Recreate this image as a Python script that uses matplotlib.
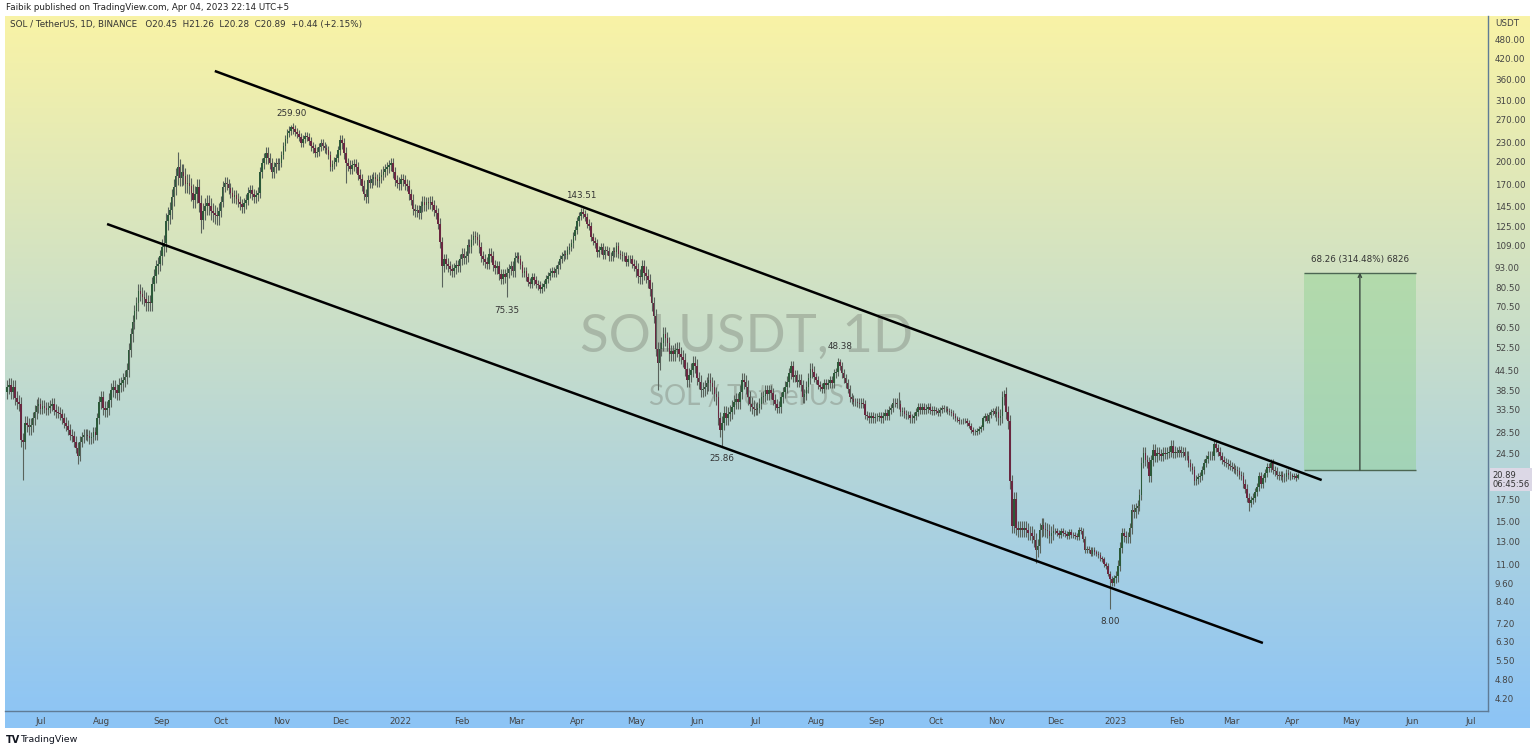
import numpy as np
import pandas as pd
import matplotlib
matplotlib.use('Agg')
import matplotlib.pyplot as plt
import matplotlib.dates as mdates
from matplotlib.colors import to_rgb
from matplotlib.ticker import NullLocator
from matplotlib.transforms import blended_transform_factory

# ---- data (daily closes, SOL/USDT) ----
first_open = 38.0
closes_2021 = [
    39.5, 40.0, 38.0, 39.5, 36.5, 35.5, 35.0, 27.0, 26.5, 30.5, 30.0, 29.5, 30.0, 31.5, 33.0, 34.5, 35.0,  # Jun 14-30
    33.8, 34.5, 34.0, 33.5, 34.0, 34.5, 35.0, 33.5, 33.0, 32.8, 32.5, 31.5, 30.5, 29.9, 29.0, 28.0,
    27.7, 26.6, 25.5, 24.1, 26.6, 27.5, 28.0, 28.0, 27.8, 27.3, 27.5, 28.5, 28.0, 31.5, 35.5,  # Jul
    36.6, 34.0, 33.5, 34.0, 36.0, 38.6, 39.5, 38.5, 37.8, 40.0, 40.5, 41.6, 42.5, 44.6, 51.5, 57.6,
    63.0, 68.0, 72.0, 79.0, 77.0, 75.7, 74.5, 72.0, 73.0, 72.0, 83.0, 88.0, 94.0, 96.0, 101.0,  # Aug
    108, 111, 130, 136, 141, 155, 167, 180, 192, 178, 185, 180, 170, 172, 168,
    160, 152, 158, 167, 148, 131, 140, 145, 148, 145, 140, 138, 136, 135, 140,  # Sep
    150, 167, 172, 170, 165, 160, 155, 157, 153, 150, 147, 144, 148, 152, 160, 163,
    158, 155, 157, 160, 185, 198, 205, 213, 205, 198, 185, 192, 198, 196, 198,  # Oct
    210, 223, 235, 246, 250, 257, 252, 248, 244, 239, 229, 235, 240, 239, 232,
    223, 220, 213, 215, 222, 229, 224, 220, 218, 210, 192, 196, 200, 205, 218,  # Nov
    233, 228, 213, 198, 194, 190, 195, 196, 192, 182, 176, 168, 158, 155, 175, 172,
    176, 179, 176, 174, 179, 182, 186, 189, 192, 195, 198, 185, 175, 172, 170,  # Dec
]
closes_2022 = [
    176, 175, 170, 168, 158, 152, 142, 140, 141, 138, 145, 150, 146, 149, 148, 150,
    146, 141, 138, 128, 112, 94, 99, 96, 94, 92, 91, 93, 95, 94, 99,  # Jan
    103, 100, 101, 110, 108, 114, 117, 116, 114, 108, 101, 99, 97, 96,
    103, 101, 95, 93, 94, 89, 86, 89, 87, 90, 92, 94, 91, 100,  # Feb
    101, 99, 95, 90, 91, 87, 84, 83, 87, 85, 83, 82, 80, 81, 83, 86,
    88, 90, 91, 90, 92, 95, 99, 101, 103, 102, 106, 108, 111, 117, 122,  # Mar
    130, 135, 139, 137, 134, 128, 126, 116, 113, 111, 104, 106, 108, 102, 106,
    105, 101, 101, 105, 104, 109, 103, 102, 101, 101, 97, 99, 99, 96, 94,  # Apr
    92, 88, 87, 94, 90, 88, 85, 80, 72, 66, 52, 47, 52, 54, 58, 56,
    54, 50, 51, 50, 51.5, 52, 50, 49, 48, 45, 41.6, 43, 44.6, 47, 46,  # May
    42.0, 41.0, 38.6, 39.0, 39.5, 40.5, 41.6, 40.5, 39.5, 37.5, 36.6, 31.5, 29.0, 30.5, 32.8,
    31.5, 32.5, 33.0, 34.2, 35.5, 36.1, 35.5, 38.0, 41.6, 41.0, 39.5, 36.6, 35.0, 34.2, 33.8,  # Jun
    33.5, 34.0, 35.0, 36.6, 37.0, 38.6, 37.5, 38.5, 37.8, 36.0, 34.8, 34.0, 34.2, 36.6, 38.0, 39.5,
    41.0, 43.5, 45.8, 42.5, 43.0, 41.0, 41.6, 40.0, 36.6, 37.5, 39.5, 42.0, 45.0, 44.0, 42.5,  # Jul
    41.5, 40.0, 39.5, 39.0, 40.5, 40.0, 40.5, 41.6, 40.5, 43.5, 44.0, 47.2, 46.0, 43.5, 42.0, 40.5,
    39.0, 36.6, 36.1, 35.5, 35.5, 35.3, 35.0, 35.3, 35.0, 32.3, 32.0, 31.5, 32.0, 31.5, 31.8,  # Aug
    31.8, 32.0, 31.5, 32.0, 32.8, 32.0, 33.5, 34.0, 35.3, 35.3, 35.0, 34.8, 33.0, 33.2, 32.5,
    32.3, 32.3, 31.5, 31.5, 32.0, 33.0, 34.2, 33.5, 34.2, 33.5, 33.8, 34.2, 33.5, 33.2, 33.4,  # Sep
    33.2, 32.8, 33.5, 34.0, 33.6, 33.7, 33.2, 33.0, 32.8, 32.0, 31.5, 31.2, 30.8, 30.8, 31.0, 31.0,
    30.5, 29.9, 29.0, 28.6, 28.6, 28.8, 29.2, 29.5, 31.5, 32.0, 31.0, 32.3, 33.0, 33.2, 32.5,  # Oct
    32.9, 31.5, 32.0, 36.6, 37.5, 32.9, 30.8, 20.0, 14.5, 17.6, 14.3, 14.1, 14.3, 14.1, 14.3,
    14.1, 13.8, 13.8, 13.5, 13.1, 12.2, 12.6, 14.1, 14.6, 14.2, 14.1, 14.0, 13.5, 13.8, 14.0,  # Nov
    14.0, 13.8, 13.6, 14.0, 13.8, 13.7, 13.5, 13.9, 13.6, 13.6, 13.5, 13.4, 14.1, 14.0, 13.2, 12.2,
    12.3, 12.2, 11.9, 12.2, 12.0, 11.9, 11.8, 11.5, 11.4, 11.0, 10.9, 10.3, 9.9, 9.6, 10.0,  # Dec
]
closes_2023 = [
    10.1, 10.9, 12.4, 13.8, 13.5, 13.4, 13.4, 14.3, 16.3, 16.0, 16.5, 16.8, 18.2, 22.9, 24.6, 23.3,
    23.0, 20.8, 23.3, 25.1, 24.0, 24.6, 24.3, 24.1, 24.6, 24.4, 24.6, 24.8, 25.9, 24.6, 24.8,  # Jan
    24.5, 25.0, 24.5, 24.8, 24.0, 24.1, 22.9, 22.2, 21.7, 20.1, 20.3, 20.6, 20.8, 21.7,
    22.9, 23.5, 24.1, 24.0, 24.1, 26.2, 25.5, 24.8, 24.0, 23.3, 23.0, 22.9, 22.6, 22.4,  # Feb
    22.2, 21.9, 21.7, 21.5, 21.0, 20.8, 19.7, 19.0, 17.8, 17.1, 17.5, 17.8, 18.5, 19.2, 20.8, 19.7,
    20.5, 21.3, 22.2, 22.0, 22.9, 21.7, 21.5, 21.0, 20.8, 20.9, 20.6, 20.7, 21.2, 21.0, 20.9,  # Mar
    20.7, 20.8, 20.45, 20.89,  # Apr 1-4
]
# typical wick size per month, Jun 2021 .. Apr 2023
wick_pct = [0.05, 0.04, 0.05, 0.06, 0.04, 0.03, 0.04,
            0.04, 0.04, 0.03, 0.03, 0.05, 0.05, 0.04, 0.03, 0.03, 0.02, 0.05, 0.02,
            0.04, 0.03, 0.03, 0.02]
spike_highs = {'2021-09-09': 214, '2021-11-06': 259.90, '2022-04-03': 143.51,
               '2022-08-13': 48.38, '2022-09-12': 38.0, '2022-11-05': 38.6,
               '2023-04-04': 21.26}
spike_lows = {'2021-06-22': 20.2, '2021-07-20': 22.6, '2021-09-21': 120,
              '2021-12-04': 172, '2022-01-22': 81, '2022-02-24': 75.35,
              '2022-05-12': 38.6, '2022-06-14': 25.86, '2022-11-21': 11.1,
              '2022-12-29': 8.00, '2023-03-10': 16.2, '2023-04-04': 20.28}

label_dates = ['2021-11-06', '2022-04-03', '2022-02-24', '2022-08-13', '2022-06-14', '2022-12-29']
label_values = [259.90, 143.51, 75.35, 48.38, 25.86, 8.00]
label_above = [True, True, False, True, False, False]

upper_line_dates = ['2021-09-28', '2023-04-16']
upper_line_prices = [384, 20.2]
lower_line_dates = ['2021-08-04', '2023-03-17']
lower_line_prices = [127.6, 6.25]

box_dates = ['2023-04-07', '2023-06-03']
box_low, box_high = 21.706, 89.966

price_ticks = [480, 420, 360, 310, 270, 230, 200, 170, 145, 125, 109, 93, 80.5, 70.5,
               60.5, 52.5, 44.5, 38.5, 33.5, 28.5, 24.5, 17.5, 15, 13, 11, 9.6, 8.4,
               7.2, 6.3, 5.5, 4.8, 4.2]
month_ticks = pd.date_range('2021-07-01', '2023-07-01', freq='MS')

# ---- build OHLC ----
closes = np.array(closes_2021 + closes_2022 + closes_2023, dtype=float)
dates = pd.date_range('2021-06-14', periods=len(closes), freq='D')
opens = np.r_[first_open, closes[:-1]]
midx = (dates.year - 2021) * 12 + dates.month - 6
w = np.array(wick_pct)[midx]
highs = np.maximum(opens, closes) * (1 + w)
lows = np.minimum(opens, closes) * (1 - w)
pos = {d.strftime('%Y-%m-%d'): i for i, d in enumerate(dates)}
for d, v in spike_highs.items():
    highs[pos[d]] = v
for d, v in spike_lows.items():
    lows[pos[d]] = v
x = mdates.date2num(dates)

W, H = 1536, 750
fig = plt.figure(figsize=(W / 100, H / 100), dpi=100)
fig.patch.set_facecolor('white')

# gradient background
bg = fig.add_axes([5 / W, (H - 728) / H, (1530 - 5) / W, (728 - 16) / H])
c_top = np.array(to_rgb('#f9f3a6'))
c_bot = np.array(to_rgb('#8cc4f6'))
t = np.linspace(0, 1, 256)[:, None]
grad = c_top * (1 - t) + c_bot * t
bg.imshow(grad[:, None, :], aspect='auto', extent=[0, 1, 0, 1])
bg.axis('off')

ax = fig.add_axes([5 / W, (H - 711) / H, (1488 - 5) / W, (711 - 16) / H])
ax.set_facecolor('none')
ax.set_yscale('log')
base = mdates.date2num(pd.Timestamp('2021-07-01'))
ax.set_xlim(base - 18.1, base + 738.9)
ax.set_ylim(3.83, 570.5)

# watermark
ax.text(0.5, 0.538, 'SOLUSDT, 1D', transform=ax.transAxes, ha='center', va='center',
        fontsize=38, family='Lato', color='#7d8378', alpha=0.42, zorder=1)
ax.text(0.5, 0.452, 'SOL / TetherUS', transform=ax.transAxes, ha='center', va='center',
        fontsize=20, family='Lato', color='#7d8378', alpha=0.42, zorder=1)

# candles
up = closes >= opens
ax.vlines(x, lows, highs, color='#59635c', lw=0.8, zorder=2)
ax.bar(x[up], (closes - opens)[up], bottom=opens[up], width=0.8,
       color='#2c5a39', linewidth=0, zorder=3)
ax.bar(x[~up], (opens - closes)[~up], bottom=closes[~up], width=0.8,
       color='#6a2740', linewidth=0, zorder=3)

# channel lines
ax.plot(mdates.date2num(pd.to_datetime(upper_line_dates)), upper_line_prices,
        color='black', lw=1.8, zorder=4, solid_capstyle='butt')
ax.plot(mdates.date2num(pd.to_datetime(lower_line_dates)), lower_line_prices,
        color='black', lw=1.8, zorder=4, solid_capstyle='butt')

# high / low labels
for d, v, a in zip(label_dates, label_values, label_above):
    ax.annotate(f'{v:.2f}', xy=(mdates.date2num(pd.Timestamp(d)), v),
                xytext=(0, 8.5 if a else -9.5), textcoords='offset points',
                ha='center', va='center', fontsize=6.3, color='#333333', zorder=5)

# projection box
bx = mdates.date2num(pd.to_datetime(box_dates))
ax.fill_between(bx, box_low, box_high, color='#8fd28f', alpha=0.45, lw=0, zorder=2)
ax.hlines([box_low, box_high], bx[0], bx[1], color='#4c6652', lw=1, zorder=3)
mid = bx.mean()
ax.annotate('', xy=(mid, box_high), xytext=(mid, box_low),
            arrowprops=dict(arrowstyle='->', color='#3d4a42', lw=1,
                            shrinkA=0, shrinkB=0, mutation_scale=6), zorder=4)
diff = box_high - box_low
ax.annotate(f'{diff:.2f} ({diff / box_low * 100:.2f}%) {diff * 100:.0f}',
            xy=(mid, box_high), xytext=(0, 9.5), textcoords='offset points',
            ha='center', va='center', fontsize=6.3, color='#333333')

# axes styling
for s in ['left', 'top']:
    ax.spines[s].set_visible(False)
for s in ['right', 'bottom']:
    ax.spines[s].set_color('#5f7b96')
    ax.spines[s].set_linewidth(1)
ax.yaxis.tick_right()
ax.yaxis.set_minor_locator(NullLocator())
ax.set_yticks(price_ticks)
ax.set_yticklabels([f'{v:.2f}' for v in price_ticks])
ax.tick_params(axis='y', length=0, pad=5, labelsize=6.3, labelcolor='#444444')
ax.set_xticks(mdates.date2num(month_ticks))
ax.set_xticklabels([str(d.year) if d.month == 1 else d.strftime('%b') for d in month_ticks])
ax.tick_params(axis='x', length=0, pad=4, labelsize=6.3, labelcolor='#444444')

# current price tag
trans = blended_transform_factory(ax.transAxes, ax.transData)
ax.annotate(f'{closes[-1]:.2f}\n06:45:56', xy=(1, closes[-1]), xycoords=trans,
            xytext=(3, -3.2), textcoords='offset points', ha='left', va='center',
            fontsize=6, linespacing=1.0, color='#333333', annotation_clip=False,
            bbox=dict(boxstyle='square,pad=0.3', fc='#dcd8e6', ec='none'))

fig.text(1495 / W, 1 - 23 / H, 'USDT', fontsize=6.3, color='#444444', va='center')
fig.text(6 / W, 1 - 8 / H, 'Faibik published on TradingView.com, Apr 04, 2023 22:14 UTC+5',
         fontsize=6.3, color='#222222', va='center')
chg = closes[-1] - closes[-2]
fig.text(10 / W, 1 - 24 / H,
         f'SOL / TetherUS, 1D, BINANCE   O{opens[-1]:.2f}  H{highs[-1]:.2f}  '
         f'L{lows[-1]:.2f}  C{closes[-1]:.2f}  +{chg:.2f} (+{chg / closes[-2] * 100:.2f}%)',
         fontsize=6.3, color='#333333', va='center')
fig.text(6 / W, 1 - 740 / H, 'TV', fontsize=7, weight='bold', color='#131722', va='center')
fig.text(20 / W, 1 - 740 / H, 'TradingView', fontsize=6.8, color='#131722', va='center')

fig.savefig('out.png', dpi=100)
